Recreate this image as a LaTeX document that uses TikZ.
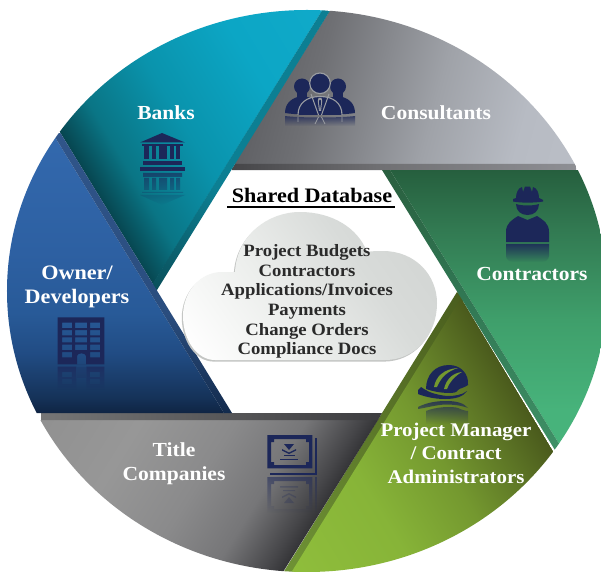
\documentclass[tikz,border=0pt]{standalone}
\usepackage{fontspec}
\setmainfont[FakeStretch=1.08]{Liberation Serif}
\usetikzlibrary{calc,fadings}
\newcommand\hx[2]{\definecolor{#1}{HTML}{#2}}
\hx{navy}{1C2759}
% Banks
\hx{ba}{07454F}\hx{bb}{0A7585}\hx{bc}{0A93AC}\hx{bd}{0CA6C5}\hx{be}{10AACA}
\hx{bband}{0C7F93}\hx{bbandd}{0A4F5A}
\pgfdeclarehorizontalshading{sBanks}{900bp}{color(0bp)=(ba);color(40bp)=(bb);color(110bp)=(bc);color(200bp)=(bd);color(300bp)=(be)}
\pgfdeclarehorizontalshading{sBanksBand}{900bp}{color(0bp)=(bbandd);color(120bp)=(bband);color(330bp)=(bband)}
% Consultants
\hx{ca}{5A5B5F}\hx{cb}{6F7074}\hx{cc}{9FA2A8}\hx{cd}{B7BBC3}\hx{ce}{BCC0C8}
\pgfdeclarehorizontalshading{sCons}{900bp}{color(0bp)=(ca);color(80bp)=(cb);color(200bp)=(cc);color(290bp)=(cd);color(400bp)=(ce)}
\hx{cba}{454548}\hx{cbb}{707073}\hx{cbc}{8E8F94}
\pgfdeclarehorizontalshading{sConsBand}{60bp}{color(0bp)=(cba);color(150bp)=(cbb);color(345bp)=(cbc)}
% Contractors
\hx{ta}{265F3E}\hx{tb}{327A52}\hx{tc}{3F9F6B}\hx{td}{47B37B}
\pgfdeclarehorizontalshading{sContr}{900bp}{color(0bp)=(ta);color(60bp)=(tb);color(150bp)=(tc);color(240bp)=(td);color(400bp)=(td)}
\hx{tba}{2A5F3F}\hx{tbb}{2F7350}\hx{tbc}{3E9066}
\pgfdeclarehorizontalshading{sContrBand}{900bp}{color(0bp)=(tba);color(100bp)=(tbb);color(280bp)=(tbc);color(400bp)=(tbc)}
% Project manager
\hx{pa}{4A5A1C}\hx{pb}{5C7425}\hx{pc}{74982F}\hx{pd}{87B438}\hx{pe}{90BF3C}
\pgfdeclarehorizontalshading{sPM}{900bp}{color(0bp)=(pa);color(40bp)=(pb);color(100bp)=(pc);color(180bp)=(pd);color(300bp)=(pe)}
\hx{pba}{4A5E1E}\hx{pbb}{6F9335}
\pgfdeclarehorizontalshading{sPMBand}{900bp}{color(0bp)=(pba);color(330bp)=(pbb)}
% Title
\hx{la}{343437}\hx{lb}{464649}\hx{lc}{767678}\hx{ld}{8A8A8B}\hx{le}{979797}\hx{lf}{8C8C8C}
\pgfdeclarehorizontalshading{sTitle}{900bp}{color(0bp)=(la);color(15bp)=(lb);color(60bp)=(lc);color(120bp)=(ld);color(200bp)=(le);color(350bp)=(lf)}
\hx{lba}{767676}\hx{lbb}{3C3C3F}
\pgfdeclarehorizontalshading{sTitleBand}{60bp}{color(0bp)=(lba);color(345bp)=(lbb)}
% Owner
\hx{oa}{3369AE}\hx{ob}{2D60A2}\hx{oc}{285A98}\hx{od}{214C84}\hx{oe}{153258}\hx{of}{0F2443}
\pgfdeclarehorizontalshading{sOwner}{900bp}{color(0bp)=(oa);color(120bp)=(ob);color(180bp)=(oc);color(220bp)=(od);color(265bp)=(oe);color(280bp)=(of)}
\hx{oba}{30558A}\hx{obb}{2A4D7E}\hx{obc}{132B4D}
\pgfdeclarehorizontalshading{sOwnerBand}{900bp}{color(0bp)=(oba);color(180bp)=(obb);color(280bp)=(obc)}
% Cloud
\hx{ka}{FFFFFF}\hx{kb}{ECEEEC}\hx{kc}{D8DBD9}\hx{kd}{CED1CF}
\pgfdeclarehorizontalshading{sCloud}{500bp}{color(0bp)=(ka);color(100bp)=(kb);color(190bp)=(kc);color(300bp)=(kd)}
\hx{krim}{C4C6C4}
\hx{txtd}{2A2A2A}
\hx{ringc}{9A9DA2}
% fill a polygon with a gradient: name, polygon, origin, direction
\newcommand\gradseg[4]{%
  \begin{scope}
    \clip #2;
    \node (g#1) [inner sep=0pt,outer sep=0pt,anchor=west,rotate=#4] at #3 {\pgfuseshading{s#1}};
  \end{scope}}
\newcommand\cloudpath{(235,272) .. controls (237,235) and (268,212) .. (300,212) .. controls (332,212) and (358,228) .. (367,252) .. controls (372,251) and (378,251) .. (383,251) .. controls (415,251) and (437,275) .. (437,303) .. controls (437,335) and (415,360) .. (385,360) -- (215,360) .. controls (197,360) and (183,340) .. (183,316) .. controls (183,292) and (200,272) .. (222,272) .. controls (227,272) and (231,272) .. (235,272) -- cycle}
\tikzset{
  lbl/.style={text=white,font=\fontsize{20}{24}\selectfont\bfseries,align=center,inner sep=0pt},
  lblb/.style={text=white,font=\fontsize{19.4}{23.5}\selectfont\bfseries,align=center,inner sep=0pt},
  dbt/.style={text=txtd,font=\fontsize{17.4}{19.7}\selectfont\bfseries,align=center,inner sep=0pt},
  icon/.style={fill=navy,draw=none},
  mirror/.style={fill=navy,draw=none,even odd rule,path fading=south,fill opacity=#1},
  mirror/.default=.65,
}
\begin{document}
\begin{tikzpicture}[x=1bp,y=-1bp]
\useasboundingbox (0,0) rectangle (601,572);
\fill[white] (0,0) rectangle (601,572);
\begin{scope}
\clip (307,291) ellipse [x radius=300bp,y radius=281bp];
% Project manager (below Contractors, Title)
\gradseg{PMBand}{(457,292)--(265,602)--(280,602)--(465,298)--cycle}{(457,292)}{238}
\gradseg{PM}{(461,298)--(273,602)--(600,602)--(600,523)--cycle}{(461,298)}{211}
% Title companies
\gradseg{Title}{(-30,420)--(378,420)--(265,602)--(-30,602)--cycle}{(378,420)}{148}
\gradseg{TitleBand}{(-30,413)--(382,413)--(378,420)--(-30,420)--cycle}{(40,416.5)}{0}
% Consultants
\gradseg{Cons}{(349,-20)--(234,164)--(640,164)--(640,-20)--cycle}{(240,60)}{-15}
\gradseg{ConsBand}{(235,164)--(640,164)--(640,170)--(231,170)--cycle}{(231,167)}{0}
% Banks
\gradseg{Banks}{(20,67)--(153,284)--(341,-20)--(20,-20)--cycle}{(60,133)}{31}
\gradseg{BanksBand}{(341,-20)--(349,-20)--(157,290)--(150,288)--cycle}{(150,288)}{58}
% Owner
\gradseg{Owner}{(12,67)--(224,413)--(-30,413)--(-30,67)--cycle}{(0,133)}{-90}
\gradseg{OwnerBand}{(12,67)--(20,67)--(232,413)--(224,413)--cycle}{(100,133)}{-90}
% Contractors
\gradseg{Contr}{(390,170)--(640,170)--(640,523)--(608,523)--cycle}{(500,170)}{-90}
\gradseg{ContrBand}{(382,170)--(390,170)--(608,523)--(600,523)--cycle}{(400,170)}{-90}
\end{scope}
% Bank icon
\fill[icon] (162,133)--(185,142.5)--(140,142.5)--cycle;
\fill[icon] (142,144.5) rectangle (183,146);
\foreach \a/\b in {144/149,152/156,159/167,170/174,176/180} \fill[icon] (\a,146) rectangle (\b,159);
\fill[icon] (143,161.5) rectangle (182,165.5);
\fill[icon] (140,167) rectangle (185,171);
\fill[mirror] (143,173) rectangle (182,177) (144,178) rectangle (149,190) (152,178) rectangle (156,190) (159,178) rectangle (167,190) (170,178) rectangle (174,190) (176,178) rectangle (180,190) (142,192) rectangle (183,193) (140,195)--(185,195)--(162,205)--cycle;
% People icon
\fill[icon] (302,86.5) circle [radius=8bp];
\fill[icon] (338,86.5) circle [radius=8bp];
\fill[icon] (297,90) rectangle (307,99);
\fill[icon] (333,90) rectangle (343,99);
\fill[icon] (285,113) .. controls (285,103) and (292,97) .. (303,96) -- (320,100) -- (337,96) .. controls (348,97) and (355,103) .. (355,113) .. controls (340,115.5) and (300,115.5) .. (285,113) -- cycle;
\filldraw[fill=navy,draw=ringc,line width=1.1bp] (298,115) .. controls (298,103) and (307,96.5) .. (320,96.5) .. controls (333,96.5) and (342,103) .. (342,115);
\fill[icon] (298.6,113)--(341.4,113)--(341.4,115.2)--(298.6,115.2)--cycle;
\filldraw[fill=navy,draw=ringc,line width=1.1bp] (320,83.3) circle [radius=10.3bp];
\draw[ringc,line width=1bp] (311,94) -- (318.5,115) (329,94) -- (321.5,115);
\fill[ringc] (318.5,98)--(321.5,98)--(322.2,101)--(321,111)--(319,111)--(317.8,101)--cycle;
\fill[navy] (319.3,100)--(320.7,100)--(321,103)--(320,110)--(319,103)--cycle;
\fill[mirror=.75] (285,116) .. controls (300,118) and (340,118) .. (355,116) -- (355,126) -- (285,126) -- cycle;
\draw[ringc,line width=.8bp] (298,117)--(298,122) (342,117)--(342,122) (318.5,117)--(315,124) (321.5,117)--(325,124);
% Worker icon
\fill[icon] (513,199) -- (516,198) .. controls (516,193) and (518,188) .. (522,187) -- (523,192) -- (525,186.5) .. controls (527,186) and (528,186) .. (530,186.5) -- (532,192) -- (533,187) .. controls (537,188) and (539,193) .. (539,198) -- (543,200) -- (543,201.5) .. controls (535,203) and (520,203) .. (513,201.5) -- cycle;
\fill[icon] (516,204) .. controls (522,206) and (533,206) .. (539,204) .. controls (539,211) and (534,215) .. (527.5,215) .. controls (521,215) and (516,211) .. (516,204) -- cycle;
\fill[icon] (506,242) -- (506,232) .. controls (506,223) and (512,220) .. (518,216) -- (527.5,220) -- (537,216) .. controls (543,220) and (549,223) .. (549,232) -- (549,242) -- cycle;
\fill[mirror=.85] (506,244)--(549,244)--(549,256) .. controls (549,260) and (545,262) .. (541,262)--(514,262) .. controls (510,262) and (506,260) .. (506,256)--cycle;
% Helmet icon
\fill[icon] (426,389) .. controls (426,375) and (435,365) .. (449,365) .. controls (461,365) and (469,374) .. (468,385) .. controls (464,388) and (460,388) .. (458,390) .. controls (456,393) and (453,393) .. (450,393) .. controls (440,393) and (432,391) .. (426,389) -- cycle;
\fill[icon] (418,390) -- (421,387) -- (424,389) .. controls (430,393) and (438,395) .. (447,396) .. controls (455,396) and (462,395) .. (467,391) .. controls (463,397) and (455,399) .. (445,399) .. controls (433,399) and (423,396) .. (418,394) -- cycle;
\fill[pc] (434,387) .. controls (436,376) and (444,369) .. (458,368) .. controls (448,371) and (441,377) .. (437,387) -- cycle;
\fill[pc] (444,389) .. controls (446,380) and (452,373) .. (462,372) .. controls (455,376) and (450,381) .. (447,389) -- cycle;
\fill[mirror=.8] (418,407) .. controls (428,402) and (438,401) .. (447,401) .. controls (456,401) and (464,403) .. (468,408) .. controls (460,405) and (452,404.5) .. (445,404.5) .. controls (436,405) and (425,408) .. (418,409) -- cycle (426,411) .. controls (435,407) and (452,406) .. (458,408) .. controls (462,410) and (466,411) .. (468,411) -- (468,424) -- (426,424) -- cycle;
% Building icon
\fill[icon,even odd rule] (57.7,317.3) rectangle (104.3,364.3)
  (62,322.7) rectangle (72,328) (75,322.7) rectangle (87,328) (90,322.7) rectangle (100,328)
  (62,330) rectangle (72,335.3) (75,330) rectangle (87,335.3) (90,330) rectangle (100,335.3)
  (62,337.3) rectangle (72,342.3) (75,337.3) rectangle (87,342.3) (90,337.3) rectangle (100,342.3)
  (62,344.7) rectangle (72,350) (75,344.7) rectangle (87,350) (90,344.7) rectangle (100,350)
  (62,352) rectangle (72,357.3) (90,352) rectangle (100,357.3)
  (77,364.3) -- (77,356) .. controls (77,352.5) and (86,352.5) .. (86,356) -- (86,364.3) -- cycle;
\fill[mirror=.7] (57.7,366.5) rectangle (76.5,390) (86.5,366.5) rectangle (104.3,390)
  (62,372) rectangle (72,377) (90,372) rectangle (100,377)
  (62,379) rectangle (72,384) (90,379) rectangle (100,384);
\fill[navy,opacity=.2] (77,366.5) rectangle (86,378);
% Certificate icon
\fill[icon,even odd rule] (267.3,435) rectangle (312.3,468.3)
  (274,439) -- (306,439) -- (306,442) -- (309,442) -- (309,462) -- (306,462) -- (306,465) -- (274,465) -- (274,462) -- (271,462) -- (271,442) -- (274,442) -- cycle;
\fill[icon] (284,444) -- (294,444) -- (289,450) -- cycle;
\fill[icon] (282,449) -- (289,452.5) -- (296,449) -- (296,450.5) -- (289,454) -- (282,450.5) -- cycle;
\fill[icon] (283.5,455) rectangle (295,456);
\fill[icon] (280,458.5) rectangle (298,460);
\fill[icon] (315,438) rectangle (316.7,475);
\fill[icon] (270,472.5) rectangle (316.7,475);
\fill[mirror=.55] (267.3,477) rectangle (312.3,513)
  (274,481) -- (306,481) -- (306,484) -- (309,484) -- (309,506) -- (306,506) -- (306,509) -- (274,509) -- (274,506) -- (271,506) -- (271,484) -- (274,484) -- cycle;
\fill[navy,opacity=.25] (283,490) rectangle (295,491) (280,486) rectangle (298,487.5);
\fill[navy,opacity=.25] (284,503) -- (294,503) -- (289,497) -- cycle;
\fill[navy,opacity=.25] (282,498) -- (289,494.5) -- (296,498) -- (296,496.5) -- (289,493) -- (282,496.5) -- cycle;
\fill[mirror=.55] (315,477) rectangle (316.7,513);
% Cloud
\path[fill=krim,shift={(-1.2,1.6)}] \cloudpath;
\gradseg{Cloud}{\cloudpath}{(195,360)}{35}
% Labels
\node[lbl] (banks) at (166,113) {Banks};
\node[lbl] (cons) at (436,113) {Consultants};
\node[lbl] (contr) at (532,274) {Contractors};
\node[lbl,font=\fontsize{20.6}{24}\selectfont\bfseries] (owner) at (77,287) {Owner/\\Developers};
\node[lbl] (title) at (174,464) {Title\\Companies};
\node[lblb] (pm) at (456,453) {Project Manager\\/ Contract\\Administrators};
\node[inner sep=0pt,text=black,font=\fontsize{20.6}{24}\selectfont\bfseries] (shared) at (312,195.5) {Shared Database};
\draw[black,line width=2bp] (227,207) -- (395,207);
\node[dbt] (db) at (307,301.5) {Project Budgets\\Contractors\\Applications/Invoices\\Payments\\Change Orders\\Compliance Docs};
\end{tikzpicture}
\end{document}
